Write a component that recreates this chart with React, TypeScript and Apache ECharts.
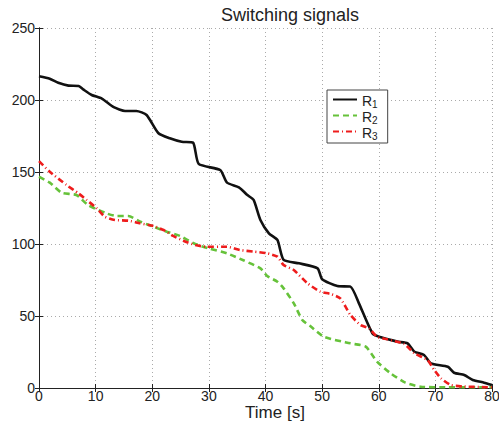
import React, { useEffect, useRef } from "react";
import * as echarts from "echarts";

const titleText = "Switching signals";
const xAxisName = "Time [s]";
const seriesNames = ["R1", "R2", "R3"];

const r1T = [0, 1.9, 3.4, 5.2, 7.0, 7.8, 9.3, 11.1, 13.2, 15.2, 17.2, 19.0, 21.1, 23.1, 25.2, 27.2, 28.2, 32.0, 33.2, 35.3, 36.8, 37.9, 39.1, 40.6, 42.1, 43.2, 45.9, 49.2, 50.0, 52.7, 55.0, 56.5, 58.9, 60.4, 63.3, 65.1, 66.3, 68.0, 69.2, 72.2, 73.3, 75.1, 76.6, 78.6, 80];
const r1V = [216.5, 214.8, 212, 210, 209.7, 207.4, 203.5, 201, 195, 192.4, 192.4, 189.6, 176.9, 173.4, 171, 170.4, 155.6, 151.4, 142.6, 139.4, 134, 130.6, 116.7, 107.4, 102.8, 88.9, 86.6, 83.1, 75.5, 70.8, 70.4, 58.8, 37.9, 35.2, 32.2, 31, 25.2, 22.9, 17.1, 14.8, 10.6, 9, 5.6, 3.7, 2.1];

const r2T = [0, 1.9, 4.0, 6.6, 8.7, 11.9, 13.7, 15.8, 17.9, 20.2, 22.6, 24.9, 27.3, 29.9, 33.2, 36.2, 39.1, 40.3, 42.1, 43.2, 45.0, 46.5, 47.9, 50.3, 55.0, 57.7, 59.7, 62.1, 64.7, 67.4, 72, 80];
const r2V = [146.7, 142.6, 135.6, 134, 127, 121.3, 119.4, 119.4, 115.5, 112, 108.5, 105.6, 100.5, 97, 93.5, 88.5, 83.1, 77.8, 73.8, 69.2, 58.8, 47.2, 43, 35.6, 31, 28.7, 18.3, 10.2, 3.7, 0.9, 0.5, 0.5];

const r3T = [0, 1.9, 4.85, 6.95, 8.4, 10.2, 11.6, 13.4, 15.8, 17.8, 20.2, 22.0, 23.7, 25.5, 27.6, 29.6, 33.2, 35.5, 37.9, 40.3, 42.1, 43.2, 45.0, 47.4, 49.7, 51.5, 53.2, 55.0, 56.8, 58.3, 59.7, 61.5, 64.5, 66.3, 68.6, 69.8, 71.0, 72.7, 75, 80];
const r3V = [157.5, 150.2, 141, 135.2, 130.6, 124.8, 119, 116.7, 116.2, 114.4, 112.5, 109.7, 105.6, 102.3, 99.3, 98.1, 98.1, 95.8, 94.7, 93.5, 91.2, 85.4, 81.9, 72.7, 66.9, 65.3, 62.3, 50.7, 43.7, 41.4, 35.6, 33.8, 30.6, 24.1, 19.4, 12.5, 6.7, 2.1, 1, 0.5];

const zip = (t: number[], v: number[]) => t.map((x, i) => [x, v[i]]);

export default function App() {
  const ref = useRef<HTMLDivElement>(null);
  useEffect(() => {
    if (!ref.current) return;
    const chart = echarts.init(ref.current, undefined, { renderer: "svg" });
    const font = "Liberation Sans, Arial, Helvetica, sans-serif";
    const axisCommon = {
      axisLine: { show: true, lineStyle: { color: "#222", width: 1 } },
      axisTick: { show: true, inside: true, length: 4, lineStyle: { color: "#222" } },
    };
    chart.setOption({
      animation: false,
      backgroundColor: "#fff",
      textStyle: { fontFamily: font },
      title: {
        text: titleText,
        left: 285,
        textAlign: "center",
        top: 1,
        textStyle: { fontFamily: font, fontSize: 18, fontWeight: "normal", color: "#222" },
      },
      graphic: [
        {
          type: "text",
          x: 275,
          y: 404,
          style: {
            text: xAxisName,
            fontFamily: font,
            fontSize: 17,
            fill: "#222",
            textAlign: "center",
            textVerticalAlign: "top",
          },
        },
      ],
      grid: { left: 39, right: 7, top: 28, bottom: 33, show: false, outerBoundsMode: "none" },
      legend: {
        orient: "vertical",
        left: 327,
        top: 90,
        padding: [4, 10, 2, 5],
        itemGap: 1,
        itemWidth: 24,
        itemHeight: 13,
        borderColor: "#444",
        borderWidth: 1,
        borderRadius: 0,
        backgroundColor: "#fff",
        itemStyle: { opacity: 0 },
        data: seriesNames,
        formatter: (name: string) => `{a|R}{b|${name.slice(1)}}`,
        textStyle: {
          fontFamily: font,
          color: "#222",
          rich: {
            a: { fontSize: 14, fontFamily: font, color: "#222", lineHeight: 11, verticalAlign: "top" },
            b: { fontSize: 10, fontFamily: font, color: "#222", lineHeight: 8, verticalAlign: "top", padding: [5, 0, 0, 0] },
          },
        },
      },
      xAxis: [
        {
          type: "value",
          min: 0,
          max: 80,
          interval: 10,
          ...axisCommon,
          axisLabel: { fontFamily: font, fontSize: 14, color: "#222", margin: 1 },
          splitLine: { show: true, lineStyle: { type: [1, 3], color: "#aaa", width: 1 } },
        },
        {
          type: "value",
          position: "top",
          min: 0,
          max: 80,
          interval: 10,
          ...axisCommon,
          axisLabel: { show: false },
          splitLine: { show: false },
        },
      ],
      yAxis: [
        {
          type: "value",
          min: 0,
          max: 250,
          interval: 50,
          ...axisCommon,
          axisLabel: { fontFamily: font, fontSize: 14, color: "#222", margin: 4 },
          splitLine: { show: true, lineStyle: { type: [1, 3], color: "#aaa", width: 1 } },
        },
        {
          type: "value",
          position: "right",
          min: 0,
          max: 250,
          interval: 50,
          ...axisCommon,
          axisLabel: { show: false },
          splitLine: { show: false },
        },
      ],
      series: [
        {
          name: seriesNames[0],
          type: "line",
          data: zip(r1T, r1V),
          symbol: "none",
          smooth: 0.2,
          lineStyle: { color: "#111", width: 2.6, type: "solid" },
          itemStyle: { color: "#111" },
          z: 3,
        },
        {
          name: seriesNames[1],
          type: "line",
          data: zip(r2T, r2V),
          symbol: "none",
          smooth: 0.2,
          lineStyle: { color: "#66c23a", width: 2.6, type: [6, 4] },
          itemStyle: { color: "#66c23a" },
          z: 4,
        },
        {
          name: seriesNames[2],
          type: "line",
          data: zip(r3T, r3V),
          symbol: "none",
          smooth: 0.2,
          lineStyle: { color: "#ee1c1c", width: 2.6, type: [6, 3, 1, 3] },
          itemStyle: { color: "#ee1c1c" },
          z: 5,
        },
      ],
    });
    return () => chart.dispose();
  }, []);
  return <div ref={ref} style={{ width: 499, height: 421, position: "absolute", left: 0, top: 0 }} />;
}
